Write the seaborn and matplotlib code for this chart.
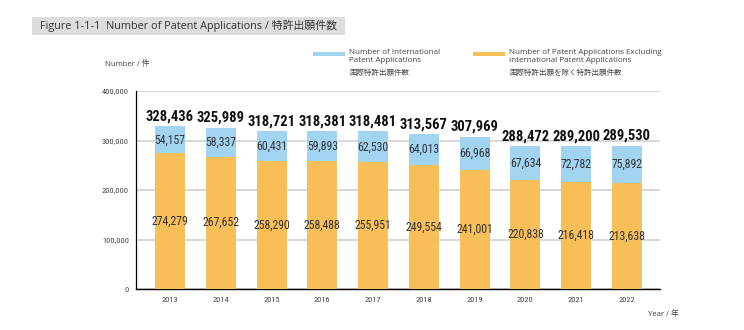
import matplotlib
matplotlib.use("Agg")
import matplotlib.pyplot as plt
import seaborn as sns
import pandas as pd
from matplotlib.patches import Rectangle

years = ["2013", "2014", "2015", "2016", "2017", "2018", "2019", "2020", "2021", "2022"]
domestic = [274279, 267652, 258290, 258488, 255951, 249554, 241001, 220838, 216418, 213638]
international = [54157, 58337, 60431, 59893, 62530, 64013, 66968, 67634, 72782, 75892]
totals = [328436, 325989, 318721, 318381, 318481, 313567, 307969, 288472, 289200, 289530]
yticks = [0, 100000, 200000, 300000, 400000]

BLUE = "#a0d4f1"
ORANGE = "#f8be57"

sns.set_theme(style="white")
plt.rcParams['font.family'] = ['DejaVu Sans', 'Noto Sans CJK JP']
JP = ['Open Sans', 'Noto Sans CJK JP']
NARROW = ['Roboto Condensed', 'Liberation Sans Narrow', 'Liberation Sans', 'DejaVu Sans']

df = pd.DataFrame({"year": years, "domestic": domestic, "international": international, "total": totals})

fig = plt.figure(figsize=(7.44, 3.30), dpi=100)
ax = fig.add_axes([136/744, 1 - 289/330, (660-136)/744, (289-91)/330])

sns.barplot(data=df, x="year", y="total", color=BLUE, width=0.59, ax=ax, saturation=1)
sns.barplot(data=df, x="year", y="domestic", color=ORANGE, width=0.59, ax=ax, saturation=1)
for p in ax.patches:
    p.set_edgecolor("none")
    p.set_zorder(3)

ax.set_ylim(0, 400000)
ax.set_xlim(-0.67, 9.65)
ax.set_yticks(yticks)
ax.set_yticklabels([f"{v:,}" for v in yticks], fontsize=6, color="#444444", family=NARROW)
ax.tick_params(axis='x', labelsize=6, colors="#444444", length=0, pad=6)
ax.tick_params(axis='y', length=0, pad=5)
for lab in ax.get_xticklabels():
    lab.set_family(NARROW)
ax.set_xlabel("")
ax.set_ylabel("")
ax.yaxis.grid(True, color="#d4d4d4", linewidth=1.3, zorder=0)
ax.set_axisbelow(True)
for s in ["top", "right"]:
    ax.spines[s].set_visible(False)
ax.spines["left"].set_color("black")
ax.spines["bottom"].set_color("black")
ax.spines["left"].set_linewidth(0.9)
ax.spines["bottom"].set_linewidth(1.0)

for i in range(len(years)):
    ax.text(i, domestic[i] / 2, f"{domestic[i]:,}", ha="center", va="center",
            fontsize=8.5, color="#333333", family=NARROW, zorder=5)
    ax.text(i, domestic[i] + international[i] / 2, f"{international[i]:,}", ha="center", va="center",
            fontsize=8.5, color="#333333", family=NARROW, zorder=5)
    ax.text(i, totals[i] + 5500, f"{totals[i]:,}", ha="center", va="bottom",
            fontsize=10.5, fontweight="bold", color="#111111", family=NARROW, zorder=5)

# Title band
fig.patches.append(Rectangle((32/744, 1 - 35/330), (345-32)/744, 18/330,
                             transform=fig.transFigure, facecolor="#dddddd", edgecolor="none"))
fig.text(40/744, 1 - 26/330, "Figure 1-1-1  Number of Patent Applications / 特許出願件数",
         fontsize=7.8, color="#333333", va="center", ha="left", family=JP)

fig.text(105/744, 1 - 64/330, "Number / 件", fontsize=5.6, color="#444444", va="center", family=JP)
fig.text(679/744, 1 - 314/330, "Year / 年", fontsize=5.6, color="#444444", va="center", ha="right", family=JP)

# Legend
fig.patches.append(Rectangle((313/744, 1 - 56/330), 32/744, 4/330, transform=fig.transFigure,
                             facecolor=BLUE, edgecolor="none"))
fig.patches.append(Rectangle((473/744, 1 - 56/330), 32/744, 4/330, transform=fig.transFigure,
                             facecolor=ORANGE, edgecolor="none"))
fig.text(349/744, 1 - 49/330, "Number of International\nPatent Applications", fontsize=5.8,
         color="#444444", va="top", ha="left", family=JP, linespacing=1.1)
fig.text(349/744, 1 - 73/330, "国際特許出願件数", fontsize=5.4, color="#444444", va="center", ha="left", family=JP)
fig.text(509/744, 1 - 49/330, "Number of Patent Applications Excluding\nInternational Patent Applications", fontsize=5.8,
         color="#444444", va="top", ha="left", family=JP, linespacing=1.1)
fig.text(509/744, 1 - 73/330, "国際特許出願を除く特許出願件数", fontsize=5.4, color="#444444", va="center", ha="left", family=JP)

fig.savefig("out.png", dpi=100, facecolor="white")
